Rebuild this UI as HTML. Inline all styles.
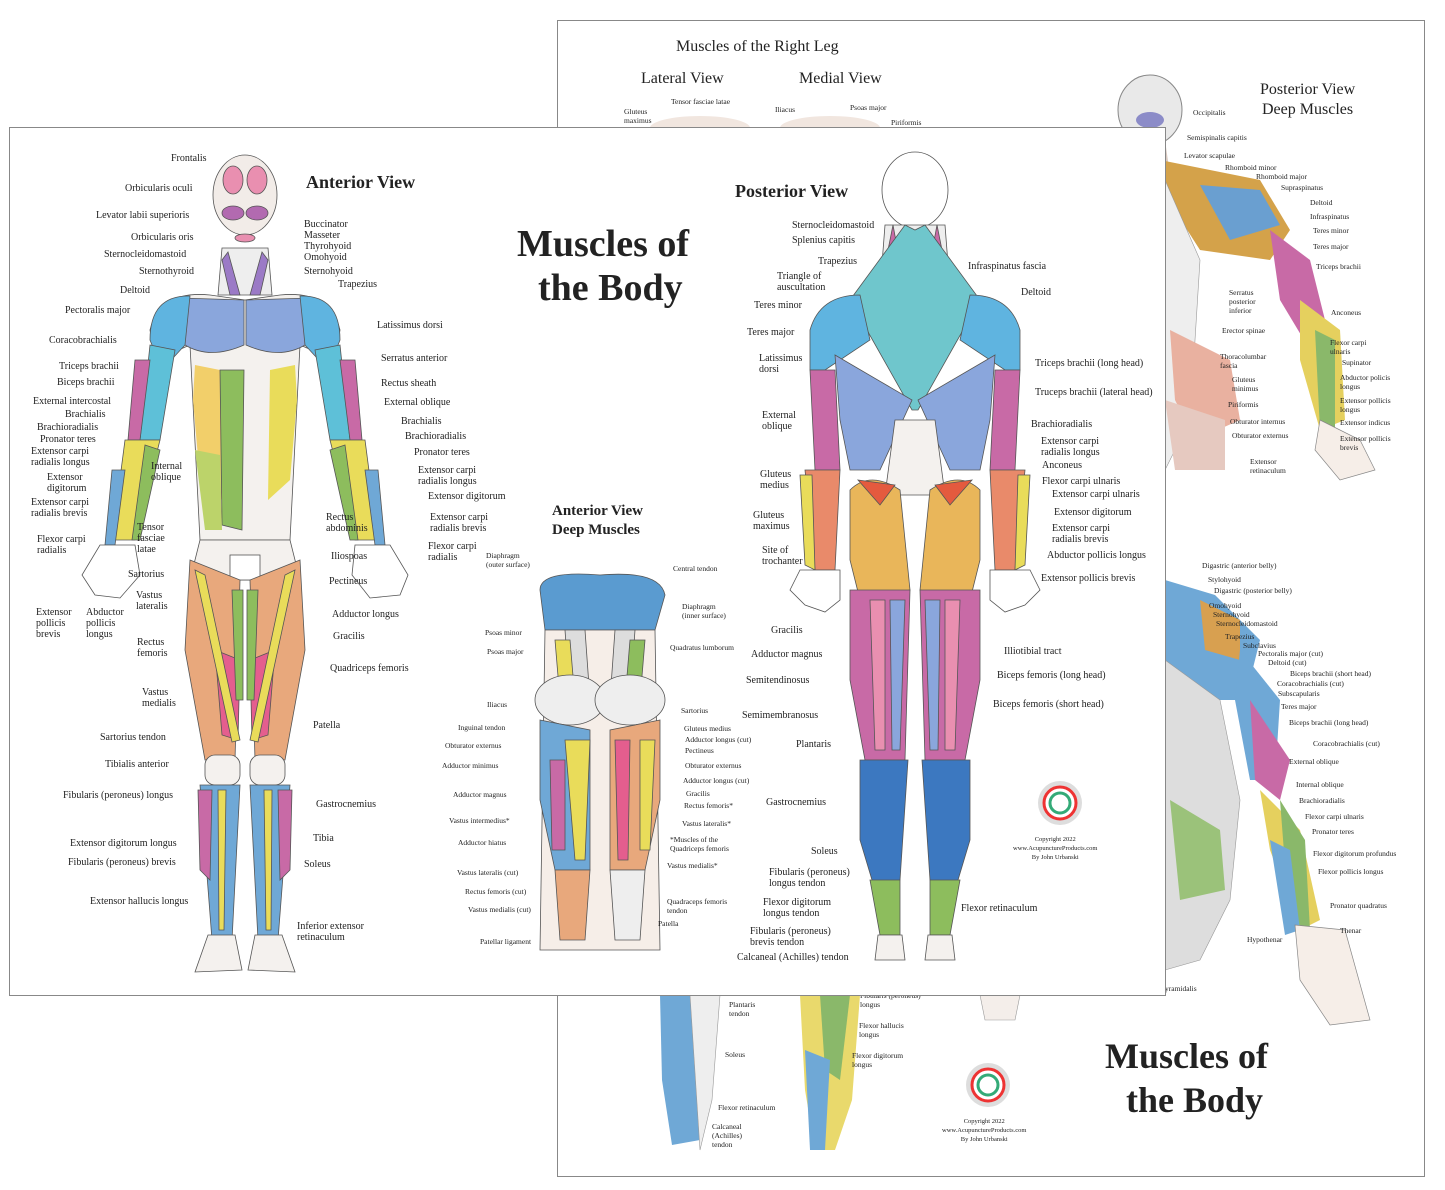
<!DOCTYPE html>
<html><head><meta charset="utf-8">
<style>
html,body{margin:0;padding:0;background:#fff;}
#w{position:relative;width:1445px;height:1190px;overflow:hidden;background:#fff;font-family:"Liberation Serif",serif;color:#222;}
.sheet{position:absolute;background:#fff;border:1px solid #888;}
.l{position:absolute;font-size:10px;line-height:11px;white-space:nowrap;}
.s{position:absolute;font-size:7.5px;line-height:9px;white-space:nowrap;}
.t{position:absolute;font-weight:bold;white-space:nowrap;}
svg{position:absolute;left:0;top:0;}
</style></head><body><div id="w">

<div class="sheet" style="left:557px;top:20px;width:866px;height:1155px;"></div>
<svg width="1445" height="1190">
 <ellipse cx="700" cy="128" rx="50" ry="12" fill="#f1e6df"/>
 <ellipse cx="830" cy="128" rx="50" ry="12" fill="#f1e6df"/>
 <path d="M660 995 L700 995 L705 1080 L700 1140 L672 1145 L662 1080Z" fill="#6fa8d6"/>
 <path d="M690 995 L720 995 L712 1100 L700 1150Z" fill="#eee" stroke="#999" stroke-width=".6"/>
 <path d="M800 995 L860 995 L852 1100 L835 1150 L815 1150 L805 1090Z" fill="#e9d96c"/>
 <path d="M820 995 L850 995 L840 1080 L825 1070Z" fill="#8ab86a"/>
 <path d="M805 1050 L830 1060 L825 1150 L810 1150Z" fill="#6fa8d6"/>
 <path d="M980 995 L1020 995 L1015 1020 L985 1020Z" fill="#f4eeea" stroke="#999" stroke-width=".6"/>
 <ellipse cx="1150" cy="110" rx="32" ry="35" fill="#e9e9e9" stroke="#888"/>
 <ellipse cx="1150" cy="120" rx="14" ry="8" fill="#8c8cc8"/>
 <path d="M1135 140 L1165 140 L1170 175 L1130 175Z" fill="#d9c9c0"/>
 <path d="M1160 160 L1260 180 L1290 230 L1270 260 L1200 250 L1168 200Z" fill="#d4a24a"/>
 <path d="M1200 185 L1260 190 L1280 225 L1230 240Z" fill="#6a9fd0"/>
 <path d="M1270 230 L1310 260 L1330 340 L1310 350 L1280 300Z" fill="#c86aa6"/>
 <path d="M1300 300 L1340 330 L1345 420 L1320 430 L1300 360Z" fill="#e5d05e"/>
 <path d="M1315 330 L1335 340 L1335 430 L1320 430Z" fill="#8ab86a"/>
 <path d="M1320 420 L1360 440 L1375 470 L1340 480 L1315 450Z" fill="#f6eee8" stroke="#888" stroke-width=".7"/>
 <path d="M1165 180 L1200 260 L1190 420 L1165 470 L1160 300Z" fill="#eee" stroke="#999" stroke-width=".6"/>
 <path d="M1170 330 L1230 360 L1240 420 L1195 440 L1175 400Z" fill="#e9b1a0"/>
 <path d="M1165 400 L1225 420 L1225 470 L1175 470Z" fill="#e6c9c0"/>
 <path d="M1165 580 L1215 595 L1260 640 L1245 700 L1200 700 L1165 660Z" fill="#6fa8d6"/>
 <path d="M1200 600 L1240 620 L1240 660 L1205 650Z" fill="#d8a050"/>
 <path d="M1240 650 L1280 700 L1275 780 L1250 780 L1235 700Z" fill="#6fa8d6"/>
 <path d="M1250 700 L1290 760 L1280 800 L1255 780Z" fill="#c86aa6"/>
 <path d="M1260 790 L1300 830 L1320 920 L1300 930 L1270 850Z" fill="#e5d05e"/>
 <path d="M1280 800 L1305 840 L1310 930 L1290 930Z" fill="#8ab86a"/>
 <path d="M1270 840 L1290 850 L1300 930 L1285 935Z" fill="#6fa8d6"/>
 <path d="M1295 925 L1345 930 L1370 1020 L1330 1025 L1300 980Z" fill="#f6eee8" stroke="#888" stroke-width=".7"/>
 <path d="M1165 660 L1220 700 L1240 800 L1230 900 L1200 960 L1165 970Z" fill="#ddd" stroke="#999" stroke-width=".6"/>
 <path d="M1170 800 L1220 830 L1225 890 L1180 900Z" fill="#9bc27a"/>
 <circle cx="988" cy="1085" r="22" fill="#ddd"/><circle cx="988" cy="1085" r="16" fill="#fff" stroke="#e33" stroke-width="3"/><circle cx="988" cy="1085" r="10" fill="#fff" stroke="#3a7" stroke-width="3"/>
</svg>

<div class="t" style="left:676px;top:38px;font-size:16px;font-weight:normal;">Muscles of the Right Leg</div>
<div class="t" style="left:641px;top:70px;font-size:16px;font-weight:normal;">Lateral View</div>
<div class="t" style="left:799px;top:70px;font-size:16px;font-weight:normal;">Medial View</div>
<div class="s" style="left:671px;top:97px;">Tensor fasciae latae</div>
<div class="s" style="left:624px;top:107px;">Gluteus<br>maximus</div>
<div class="s" style="left:775px;top:105px;">Iliacus</div>
<div class="s" style="left:850px;top:103px;">Psoas major</div>
<div class="s" style="left:891px;top:118px;">Piriformis</div>
<div class="t" style="left:1260px;top:81px;font-size:16px;font-weight:normal;">Posterior View</div>
<div class="t" style="left:1262px;top:101px;font-size:16px;font-weight:normal;">Deep Muscles</div>
<div class="s" style="left:1193px;top:108px;">Occipitalis</div>
<div class="s" style="left:1187px;top:133px;">Semispinalis capitis</div>
<div class="s" style="left:1184px;top:151px;">Levator scapulae</div>
<div class="s" style="left:1225px;top:163px;">Rhomboid minor</div>
<div class="s" style="left:1256px;top:172px;">Rhomboid major</div>
<div class="s" style="left:1281px;top:183px;">Supraspinatus</div>
<div class="s" style="left:1310px;top:198px;">Deltoid</div>
<div class="s" style="left:1310px;top:212px;">Infraspinatus</div>
<div class="s" style="left:1313px;top:226px;">Teres minor</div>
<div class="s" style="left:1313px;top:242px;">Teres major</div>
<div class="s" style="left:1316px;top:262px;">Triceps brachii</div>
<div class="s" style="left:1229px;top:288px;">Serratus<br>posterior<br>inferior</div>
<div class="s" style="left:1331px;top:308px;">Anconeus</div>
<div class="s" style="left:1222px;top:326px;">Erector spinae</div>
<div class="s" style="left:1330px;top:338px;">Flexor carpi<br>ulnaris</div>
<div class="s" style="left:1342px;top:358px;">Supinator</div>
<div class="s" style="left:1220px;top:352px;">Thoracolumbar<br>fascia</div>
<div class="s" style="left:1340px;top:373px;">Abductor policis<br>longus</div>
<div class="s" style="left:1232px;top:375px;">Gluteus<br>minimus</div>
<div class="s" style="left:1340px;top:396px;">Extensor pollicis<br>longus</div>
<div class="s" style="left:1228px;top:400px;">Piriformis</div>
<div class="s" style="left:1230px;top:417px;">Obturator internus</div>
<div class="s" style="left:1340px;top:418px;">Extensor indicus</div>
<div class="s" style="left:1232px;top:431px;">Obturator externus</div>
<div class="s" style="left:1340px;top:434px;">Extensor pollicis<br>brevis</div>
<div class="s" style="left:1250px;top:457px;">Extensor<br>retinaculum</div>
<div class="s" style="left:1202px;top:561px;">Digastric (anterior belly)</div>
<div class="s" style="left:1208px;top:575px;">Stylohyoid</div>
<div class="s" style="left:1214px;top:586px;">Digastric (posterior belly)</div>
<div class="s" style="left:1209px;top:601px;">Omohyoid</div>
<div class="s" style="left:1213px;top:610px;">Sternohyoid</div>
<div class="s" style="left:1216px;top:619px;">Sternocleidomastoid</div>
<div class="s" style="left:1225px;top:632px;">Trapezius</div>
<div class="s" style="left:1243px;top:641px;">Subclavius</div>
<div class="s" style="left:1258px;top:649px;">Pectoralis major (cut)</div>
<div class="s" style="left:1268px;top:658px;">Deltoid (cut)</div>
<div class="s" style="left:1290px;top:669px;">Biceps brachii (short head)</div>
<div class="s" style="left:1277px;top:679px;">Coracobrachialis (cut)</div>
<div class="s" style="left:1278px;top:689px;">Subscapularis</div>
<div class="s" style="left:1281px;top:702px;">Teres major</div>
<div class="s" style="left:1289px;top:718px;">Biceps brachii (long head)</div>
<div class="s" style="left:1313px;top:739px;">Coracobrachialis (cut)</div>
<div class="s" style="left:1289px;top:757px;">External oblique</div>
<div class="s" style="left:1296px;top:780px;">Internal oblique</div>
<div class="s" style="left:1299px;top:796px;">Brachioradialis</div>
<div class="s" style="left:1305px;top:812px;">Flexor carpi ulnaris</div>
<div class="s" style="left:1312px;top:827px;">Pronator teres</div>
<div class="s" style="left:1313px;top:849px;">Flexor digitorum profundus</div>
<div class="s" style="left:1318px;top:867px;">Flexor pollicis longus</div>
<div class="s" style="left:1330px;top:901px;">Pronator quadratus</div>
<div class="s" style="left:1340px;top:926px;">Thenar</div>
<div class="s" style="left:1247px;top:935px;">Hypothenar</div>
<div class="s" style="left:1165px;top:984px;">yramidalis</div>
<div class="s" style="left:729px;top:1000px;">Plantaris<br>tendon</div>
<div class="s" style="left:860px;top:991px;">Fibularis (peroneus)<br>longus</div>
<div class="s" style="left:859px;top:1021px;">Flexor hallucis<br>longus</div>
<div class="s" style="left:852px;top:1051px;">Flexor digitorum<br>longus</div>
<div class="s" style="left:725px;top:1050px;">Soleus</div>
<div class="s" style="left:718px;top:1103px;">Flexor retinaculum</div>
<div class="s" style="left:712px;top:1122px;">Calcaneal<br>(Achilles)<br>tendon</div>
<div class="s" style="left:942px;top:1117px;text-align:center;font-size:6.5px;">Copyright 2022<br>www.AcupunctureProducts.com<br>By John Urbanski</div>
<div class="t" style="left:1105px;top:1035px;font-size:36px;">Muscles of</div>
<div class="t" style="left:1126px;top:1079px;font-size:36px;">the Body</div>

<div class="sheet" style="left:9px;top:127px;width:1155px;height:867px;"></div>
<svg width="1445" height="1190">
<g stroke="#555" stroke-width=".8">
 <ellipse cx="245" cy="195" rx="32" ry="40" fill="#f2ece8"/>
 <ellipse cx="233" cy="180" rx="10" ry="14" fill="#e98fb0"/><ellipse cx="257" cy="180" rx="10" ry="14" fill="#e98fb0"/>
 <ellipse cx="233" cy="213" rx="11" ry="7" fill="#b26ab0"/><ellipse cx="257" cy="213" rx="11" ry="7" fill="#b26ab0"/>
 <ellipse cx="245" cy="238" rx="10" ry="4" fill="#e98fb0"/>
 <path d="M222 248 L268 248 L272 295 L218 295Z" fill="#eee"/>
 <path d="M228 252 L240 295 L230 295 L222 260Z" fill="#9b7ac6"/><path d="M262 252 L250 295 L260 295 L268 260Z" fill="#9b7ac6"/>
 <path d="M150 330 Q160 290 210 295 L245 300 L280 295 Q330 290 340 330 L335 360 L300 345 L290 540 L200 540 L190 345 L155 360Z" fill="#f4f1ee"/>
 <path d="M180 298 L244 300 L244 345 Q210 360 185 345Z" fill="#8aa6dc"/>
 <path d="M310 298 L246 300 L246 345 Q280 360 305 345Z" fill="#8aa6dc"/>
 <path d="M150 340 Q150 295 190 296 L185 345 L162 370Z" fill="#5fb4e0"/>
 <path d="M340 340 Q340 295 300 296 L305 345 L328 370Z" fill="#5fb4e0"/>
 <path d="M195 365 L220 370 L222 500 L200 480 L193 400Z" fill="#f2cf6a" stroke="none"/>
 <path d="M220 370 L244 370 L242 530 L222 525Z" fill="#8dbd5d"/>
 <path d="M295 365 L270 370 L268 500 L290 480 L297 400Z" fill="#e9dc5a" stroke="none"/>
 <path d="M195 450 L220 455 L222 530 L205 530Z" fill="#bcd36a" stroke="none"/>
 <path d="M150 345 L175 350 L160 440 L140 440Z" fill="#5ec0d8"/>
 <path d="M135 360 L150 360 L140 440 L128 440Z" fill="#c86aa6"/>
 <path d="M125 440 L160 440 L135 540 L112 540Z" fill="#e9dc5a"/>
 <path d="M145 445 L160 450 L140 540 L132 540Z" fill="#8dbd5d"/>
 <path d="M112 470 L125 470 L115 545 L105 545Z" fill="#6fa8d6"/>
 <path d="M340 345 L315 350 L330 440 L350 440Z" fill="#5ec0d8"/>
 <path d="M355 360 L340 360 L350 440 L362 440Z" fill="#c86aa6"/>
 <path d="M365 440 L330 440 L355 540 L378 540Z" fill="#e9dc5a"/>
 <path d="M345 445 L330 450 L350 540 L358 540Z" fill="#8dbd5d"/>
 <path d="M378 470 L365 470 L375 545 L385 545Z" fill="#6fa8d6"/>
 <path d="M100 545 L135 545 L140 575 L120 598 L95 595 L82 575Z" fill="#fff"/>
 <path d="M355 545 L390 545 L408 575 L400 595 L370 598 L352 575Z" fill="#fff"/>
 <path d="M200 540 L290 540 L300 580 L190 580Z" fill="#f4f1ee"/>
 <rect x="230" y="555" width="30" height="25" fill="#fff"/>
 <path d="M190 560 L240 580 L235 760 L205 760 L185 650Z" fill="#e8a87c"/>
 <path d="M300 560 L250 580 L255 760 L285 760 L305 650Z" fill="#e8a87c"/>
 <path d="M215 650 L240 660 L238 740 L222 735Z" fill="#e45e8e"/>
 <path d="M275 650 L250 660 L252 740 L268 735Z" fill="#e45e8e"/>
 <path d="M195 570 L205 575 L240 740 L232 742Z" fill="#e9dc5a"/>
 <path d="M295 570 L285 575 L250 740 L258 742Z" fill="#e9dc5a"/>
 <path d="M232 590 L243 590 L243 700 L236 700Z" fill="#8dbd5d"/>
 <path d="M258 590 L247 590 L247 700 L254 700Z" fill="#8dbd5d"/>
 <rect x="205" y="755" width="35" height="30" rx="10" fill="#f4f1ee"/>
 <rect x="250" y="755" width="35" height="30" rx="10" fill="#f4f1ee"/>
 <path d="M200 785 L240 785 L232 940 L212 940Z" fill="#6fa8d6"/>
 <path d="M250 785 L290 785 L278 940 L258 940Z" fill="#6fa8d6"/>
 <path d="M198 790 L212 790 L210 880 L200 870Z" fill="#c86aa6"/>
 <path d="M292 790 L278 790 L280 880 L290 870Z" fill="#c86aa6"/>
 <path d="M218 790 L226 790 L224 930 L219 930Z" fill="#e9dc5a"/>
 <path d="M272 790 L264 790 L266 930 L271 930Z" fill="#e9dc5a"/>
 <path d="M208 935 L235 935 L242 970 L195 972Z" fill="#f4f1ee"/>
 <path d="M255 935 L282 935 L295 972 L248 970Z" fill="#f4f1ee"/>

 <ellipse cx="915" cy="190" rx="33" ry="38" fill="#fff"/>
 <path d="M885 225 L945 225 L950 290 L880 290Z" fill="#eee"/>
 <path d="M893 225 L905 290 L880 290Z" fill="#c86aa6"/>
 <path d="M937 225 L925 290 L950 290Z" fill="#c86aa6"/>
 <path d="M850 300 L905 225 L915 230 L925 225 L980 300 L918 410 L912 410Z" fill="#6fc6cc"/>
 <path d="M810 330 Q820 295 860 295 L870 340 L825 370 L810 370Z" fill="#5fb4e0"/>
 <path d="M1020 330 Q1010 295 970 295 L960 340 L1005 370 L1020 370Z" fill="#5fb4e0"/>
 <path d="M835 355 L912 400 L880 470 L850 470 L840 420Z" fill="#8aa6dc"/>
 <path d="M995 355 L918 400 L950 470 L980 470 L990 420Z" fill="#8aa6dc"/>
 <path d="M895 420 L935 420 L945 495 L885 495Z" fill="#f4f1ee"/>
 <path d="M810 370 L835 370 L840 470 L815 470Z" fill="#c86aa6"/>
 <path d="M1020 370 L995 370 L990 470 L1015 470Z" fill="#c86aa6"/>
 <path d="M805 470 L840 470 L835 570 L815 570Z" fill="#e98a6a"/>
 <path d="M1025 470 L990 470 L995 570 L1015 570Z" fill="#e98a6a"/>
 <path d="M800 475 L812 475 L815 570 L805 565Z" fill="#e9dc5a"/>
 <path d="M1030 475 L1018 475 L1015 570 L1025 565Z" fill="#e9dc5a"/>
 <path d="M800 570 L840 570 L840 600 L825 612 L805 605 L790 590Z" fill="#fff"/>
 <path d="M990 570 L1030 570 L1040 590 L1025 605 L1005 612 L990 600Z" fill="#fff"/>
 <path d="M850 490 Q870 470 900 490 L910 590 L860 600 L850 560Z" fill="#e9b65a"/>
 <path d="M980 490 Q960 470 930 490 L920 590 L970 600 L980 560Z" fill="#e9b65a"/>
 <path d="M858 480 L895 485 L880 505Z" fill="#e45a3e"/>
 <path d="M972 480 L935 485 L950 505Z" fill="#e45a3e"/>
 <path d="M850 590 L910 590 L905 760 L865 760 L850 680Z" fill="#c86aa6"/>
 <path d="M980 590 L920 590 L925 760 L965 760 L980 680Z" fill="#c86aa6"/>
 <path d="M870 600 L885 600 L885 750 L875 750Z" fill="#e98fb0"/>
 <path d="M960 600 L945 600 L945 750 L955 750Z" fill="#e98fb0"/>
 <path d="M890 600 L905 600 L900 750 L892 750Z" fill="#8aa6dc"/>
 <path d="M940 600 L925 600 L930 750 L938 750Z" fill="#8aa6dc"/>
 <path d="M860 760 L908 760 L900 880 L875 890 L860 840Z" fill="#3c78c0"/>
 <path d="M970 760 L922 760 L930 880 L955 890 L970 840Z" fill="#3c78c0"/>
 <path d="M870 880 L900 880 L900 935 L880 935Z" fill="#8dbd5d"/>
 <path d="M960 880 L930 880 L930 935 L950 935Z" fill="#8dbd5d"/>
 <path d="M878 935 L902 935 L905 960 L875 960Z" fill="#f4f1ee"/>
 <path d="M928 935 L952 935 L955 960 L925 960Z" fill="#f4f1ee"/>

 <path d="M540 590 Q540 570 600 575 Q660 570 665 595 L655 630 L545 630Z" fill="#5a9bd0"/>
 <path d="M545 630 L655 630 L660 950 L540 950Z" fill="#f6eee8"/>
 <path d="M565 630 L585 630 L590 700 L570 700Z" fill="#ddd"/>
 <path d="M615 630 L635 630 L630 700 L610 700Z" fill="#ddd"/>
 <path d="M555 640 L570 640 L575 700 L560 700Z" fill="#e9dc5a"/>
 <path d="M630 640 L645 640 L640 700 L625 700Z" fill="#8dbd5d"/>
 <ellipse cx="570" cy="700" rx="35" ry="25" fill="#eee"/><ellipse cx="630" cy="700" rx="35" ry="25" fill="#eee"/>
 <path d="M540 720 L590 730 L590 870 L555 870 L540 800Z" fill="#6fa8d6"/>
 <path d="M565 740 L590 740 L585 860 L575 860Z" fill="#e9dc5a"/>
 <path d="M550 760 L565 760 L565 850 L552 850Z" fill="#c86aa6"/>
 <path d="M660 720 L610 730 L610 870 L645 870 L660 800Z" fill="#e8a87c"/>
 <path d="M615 740 L630 740 L628 860 L618 860Z" fill="#e45e8e"/>
 <path d="M640 740 L655 740 L650 850 L640 850Z" fill="#e9dc5a"/>
 <path d="M555 870 L590 870 L585 940 L560 940Z" fill="#e8a87c"/>
 <path d="M610 870 L645 870 L640 940 L615 940Z" fill="#eee"/>
</g>
 <circle cx="1060" cy="803" r="22" fill="#ddd"/><circle cx="1060" cy="803" r="16" fill="#fff" stroke="#e33" stroke-width="3"/><circle cx="1060" cy="803" r="10" fill="#fff" stroke="#3a7" stroke-width="3"/>
</svg>

<div class="t" style="left:517px;top:222px;font-size:38px;">Muscles of</div>
<div class="t" style="left:538px;top:266px;font-size:38px;">the Body</div>
<div class="t" style="left:306px;top:172px;font-size:18px;">Anterior View</div>
<div class="t" style="left:735px;top:181px;font-size:18px;">Posterior View</div>
<div class="t" style="left:552px;top:503px;font-size:15px;">Anterior View</div>
<div class="t" style="left:552px;top:522px;font-size:15px;">Deep Muscles</div>

<div class="l" style="left:171px;top:153px;">Frontalis</div>
<div class="l" style="left:125px;top:183px;">Orbicularis oculi</div>
<div class="l" style="left:96px;top:210px;">Levator labii superioris</div>
<div class="l" style="left:131px;top:232px;">Orbicularis oris</div>
<div class="l" style="left:104px;top:249px;">Sternocleidomastoid</div>
<div class="l" style="left:139px;top:266px;">Sternothyroid</div>
<div class="l" style="left:120px;top:285px;">Deltoid</div>
<div class="l" style="left:65px;top:305px;">Pectoralis major</div>
<div class="l" style="left:49px;top:335px;">Coracobrachialis</div>
<div class="l" style="left:59px;top:361px;">Triceps brachii</div>
<div class="l" style="left:57px;top:377px;">Biceps brachii</div>
<div class="l" style="left:33px;top:396px;">External intercostal</div>
<div class="l" style="left:65px;top:409px;">Brachialis</div>
<div class="l" style="left:37px;top:422px;">Brachioradialis</div>
<div class="l" style="left:40px;top:434px;">Pronator teres</div>
<div class="l" style="left:31px;top:446px;">Extensor carpi<br>radialis longus</div>
<div class="l" style="left:47px;top:472px;">Extensor<br>digitorum</div>
<div class="l" style="left:31px;top:497px;">Extensor carpi<br>radialis brevis</div>
<div class="l" style="left:37px;top:534px;">Flexor carpi<br>radialis</div>
<div class="l" style="left:151px;top:461px;">Internal<br>oblique</div>
<div class="l" style="left:137px;top:522px;">Tensor<br>fasciae<br>latae</div>
<div class="l" style="left:128px;top:569px;">Sartorius</div>
<div class="l" style="left:136px;top:590px;">Vastus<br>lateralis</div>
<div class="l" style="left:36px;top:607px;">Extensor<br>pollicis<br>brevis</div>
<div class="l" style="left:86px;top:607px;">Abductor<br>pollicis<br>longus</div>
<div class="l" style="left:137px;top:637px;">Rectus<br>femoris</div>
<div class="l" style="left:142px;top:687px;">Vastus<br>medialis</div>
<div class="l" style="left:100px;top:732px;">Sartorius tendon</div>
<div class="l" style="left:105px;top:759px;">Tibialis anterior</div>
<div class="l" style="left:63px;top:790px;">Fibularis (peroneus) longus</div>
<div class="l" style="left:70px;top:838px;">Extensor digitorum longus</div>
<div class="l" style="left:68px;top:857px;">Fibularis (peroneus) brevis</div>
<div class="l" style="left:90px;top:896px;">Extensor hallucis longus</div>
<div class="l" style="left:304px;top:219px;">Buccinator</div>
<div class="l" style="left:304px;top:230px;">Masseter</div>
<div class="l" style="left:304px;top:241px;">Thyrohyoid</div>
<div class="l" style="left:304px;top:252px;">Omohyoid</div>
<div class="l" style="left:304px;top:266px;">Sternohyoid</div>
<div class="l" style="left:338px;top:279px;">Trapezius</div>
<div class="l" style="left:377px;top:320px;">Latissimus dorsi</div>
<div class="l" style="left:381px;top:353px;">Serratus anterior</div>
<div class="l" style="left:381px;top:378px;">Rectus sheath</div>
<div class="l" style="left:384px;top:397px;">External oblique</div>
<div class="l" style="left:401px;top:416px;">Brachialis</div>
<div class="l" style="left:405px;top:431px;">Brachioradialis</div>
<div class="l" style="left:414px;top:447px;">Pronator teres</div>
<div class="l" style="left:418px;top:465px;">Extensor carpi<br>radialis longus</div>
<div class="l" style="left:428px;top:491px;">Extensor digitorum</div>
<div class="l" style="left:430px;top:512px;">Extensor carpi<br>radialis brevis</div>
<div class="l" style="left:428px;top:541px;">Flexor carpi<br>radialis</div>
<div class="l" style="left:326px;top:512px;">Rectus<br>abdominis</div>
<div class="l" style="left:331px;top:551px;">Iliospoas</div>
<div class="l" style="left:329px;top:576px;">Pectineus</div>
<div class="l" style="left:332px;top:609px;">Adductor longus</div>
<div class="l" style="left:333px;top:631px;">Gracilis</div>
<div class="l" style="left:330px;top:663px;">Quadriceps femoris</div>
<div class="l" style="left:313px;top:720px;">Patella</div>
<div class="l" style="left:316px;top:799px;">Gastrocnemius</div>
<div class="l" style="left:313px;top:833px;">Tibia</div>
<div class="l" style="left:304px;top:859px;">Soleus</div>
<div class="l" style="left:297px;top:921px;">Inferior extensor<br>retinaculum</div>

<div class="l" style="left:792px;top:220px;">Sternocleidomastoid</div>
<div class="l" style="left:792px;top:235px;">Splenius capitis</div>
<div class="l" style="left:818px;top:256px;">Trapezius</div>
<div class="l" style="left:777px;top:271px;">Triangle of<br>auscultation</div>
<div class="l" style="left:754px;top:300px;">Teres minor</div>
<div class="l" style="left:747px;top:327px;">Teres major</div>
<div class="l" style="left:759px;top:353px;">Latissimus<br>dorsi</div>
<div class="l" style="left:762px;top:410px;">External<br>oblique</div>
<div class="l" style="left:760px;top:469px;">Gluteus<br>medius</div>
<div class="l" style="left:753px;top:510px;">Gluteus<br>maximus</div>
<div class="l" style="left:762px;top:545px;">Site of<br>trochanter</div>
<div class="l" style="left:771px;top:625px;">Gracilis</div>
<div class="l" style="left:751px;top:649px;">Adductor magnus</div>
<div class="l" style="left:746px;top:675px;">Semitendinosus</div>
<div class="l" style="left:742px;top:710px;">Semimembranosus</div>
<div class="l" style="left:796px;top:739px;">Plantaris</div>
<div class="l" style="left:766px;top:797px;">Gastrocnemius</div>
<div class="l" style="left:811px;top:846px;">Soleus</div>
<div class="l" style="left:769px;top:867px;">Fibularis (peroneus)<br>longus tendon</div>
<div class="l" style="left:763px;top:897px;">Flexor digitorum<br>longus tendon</div>
<div class="l" style="left:750px;top:926px;">Fibularis (peroneus)<br>brevis tendon</div>
<div class="l" style="left:737px;top:952px;">Calcaneal (Achilles) tendon</div>
<div class="l" style="left:968px;top:261px;">Infraspinatus fascia</div>
<div class="l" style="left:1021px;top:287px;">Deltoid</div>
<div class="l" style="left:1035px;top:358px;">Triceps brachii (long head)</div>
<div class="l" style="left:1035px;top:387px;">Truceps brachii (lateral head)</div>
<div class="l" style="left:1031px;top:419px;">Brachioradialis</div>
<div class="l" style="left:1041px;top:436px;">Extensor carpi<br>radialis longus</div>
<div class="l" style="left:1042px;top:460px;">Anconeus</div>
<div class="l" style="left:1042px;top:476px;">Flexor carpi ulnaris</div>
<div class="l" style="left:1052px;top:489px;">Extensor carpi ulnaris</div>
<div class="l" style="left:1054px;top:507px;">Extensor digitorum</div>
<div class="l" style="left:1052px;top:523px;">Extensor carpi<br>radialis brevis</div>
<div class="l" style="left:1047px;top:550px;">Abductor pollicis longus</div>
<div class="l" style="left:1041px;top:573px;">Extensor pollicis brevis</div>
<div class="l" style="left:1004px;top:646px;">Illiotibial tract</div>
<div class="l" style="left:997px;top:670px;">Biceps femoris (long head)</div>
<div class="l" style="left:993px;top:699px;">Biceps femoris (short head)</div>
<div class="l" style="left:961px;top:903px;">Flexor retinaculum</div>
<div class="s" style="left:1013px;top:835px;text-align:center;font-size:6.5px;">Copyright 2022<br>www.AcupunctureProducts.com<br>By John Urbanski</div>

<div class="s" style="left:486px;top:551px;">Diaphragm<br>(outer surface)</div>
<div class="s" style="left:673px;top:564px;">Central tendon</div>
<div class="s" style="left:682px;top:602px;">Diaphragm<br>(inner surface)</div>
<div class="s" style="left:485px;top:628px;">Psoas minor</div>
<div class="s" style="left:670px;top:643px;">Quadratus lumborum</div>
<div class="s" style="left:487px;top:647px;">Psoas major</div>
<div class="s" style="left:487px;top:700px;">Iliacus</div>
<div class="s" style="left:681px;top:706px;">Sartorius</div>
<div class="s" style="left:458px;top:723px;">Inguinal tendon</div>
<div class="s" style="left:684px;top:724px;">Gluteus medius</div>
<div class="s" style="left:685px;top:735px;">Adductor longus (cut)</div>
<div class="s" style="left:445px;top:741px;">Obturator externus</div>
<div class="s" style="left:685px;top:746px;">Pectineus</div>
<div class="s" style="left:442px;top:761px;">Adductor minimus</div>
<div class="s" style="left:685px;top:761px;">Obturator externus</div>
<div class="s" style="left:683px;top:776px;">Adductor longus (cut)</div>
<div class="s" style="left:453px;top:790px;">Adductor magnus</div>
<div class="s" style="left:686px;top:789px;">Gracilis</div>
<div class="s" style="left:684px;top:801px;">Rectus femoris*</div>
<div class="s" style="left:449px;top:816px;">Vastus intermedius*</div>
<div class="s" style="left:682px;top:819px;">Vastus lateralis*</div>
<div class="s" style="left:670px;top:835px;">*Muscles of the<br>Quadriceps femoris</div>
<div class="s" style="left:458px;top:838px;">Adductor hiatus</div>
<div class="s" style="left:667px;top:861px;">Vastus medialis*</div>
<div class="s" style="left:457px;top:868px;">Vastus lateralis (cut)</div>
<div class="s" style="left:465px;top:887px;">Rectus femoris (cut)</div>
<div class="s" style="left:667px;top:897px;">Quadraceps femoris<br>tendon</div>
<div class="s" style="left:468px;top:905px;">Vastus medialis (cut)</div>
<div class="s" style="left:658px;top:919px;">Patella</div>
<div class="s" style="left:480px;top:937px;">Patellar ligament</div>

</div></body></html>
